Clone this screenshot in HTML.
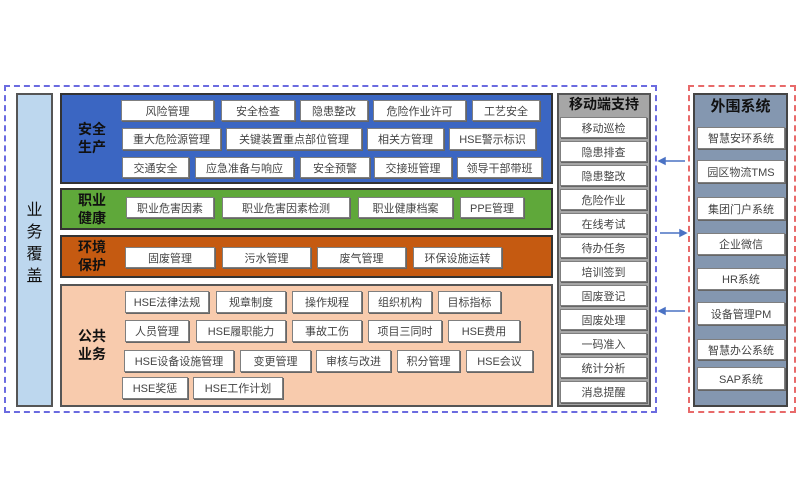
<!DOCTYPE html>
<html><head><meta charset="utf-8"><style>
*{margin:0;padding:0;box-sizing:border-box}
body{width:800px;height:500px;background:#fff;position:relative;overflow:hidden;font-family:"Liberation Sans","Noto Sans CJK SC",sans-serif}
.a{position:absolute}
.b{position:absolute;background:#fff;border:1px solid #7f7f7f;font-size:11px;color:#444;text-align:center;display:flex;align-items:center;justify-content:center;white-space:nowrap;box-shadow:1px 1px 0 #666}
.lbl{position:absolute;font-weight:bold;font-size:14px;line-height:18px;text-align:center;color:#111}
</style></head><body>
<div class="a" style="left:4px;top:85px;width:653px;height:328px;border:2px dashed #6b6be0"></div>
<div class="a" style="left:688px;top:85px;width:108px;height:328px;border:2px dashed #e86a6a"></div>

<div class="a" style="left:16px;top:93px;width:37px;height:314px;background:#bdd7ee;border:2px solid #555"></div>
<div class="lbl" style="left:16px;top:200px;width:37px;font-size:16px;line-height:22px;font-weight:normal">业<br>务<br>覆<br>盖</div>

<div class="a" style="left:60px;top:93px;width:493px;height:91px;background:#3b66c2;border:2px solid #333"></div>
<div class="lbl" style="left:70px;top:120px;width:44px">安全<br>生产</div>
<div class="b" style="left:121px;top:100px;width:93px;height:21px">风险管理</div>
<div class="b" style="left:221px;top:100px;width:74px;height:21px">安全检查</div>
<div class="b" style="left:300px;top:100px;width:68px;height:21px">隐患整改</div>
<div class="b" style="left:373px;top:100px;width:93px;height:21px">危险作业许可</div>
<div class="b" style="left:472px;top:100px;width:68px;height:21px">工艺安全</div>
<div class="b" style="left:122px;top:128px;width:99px;height:22px">重大危险源管理</div>
<div class="b" style="left:226px;top:128px;width:136px;height:22px">关键装置重点部位管理</div>
<div class="b" style="left:367px;top:128px;width:77px;height:22px">相关方管理</div>
<div class="b" style="left:449px;top:128px;width:87px;height:22px">HSE警示标识</div>
<div class="b" style="left:122px;top:157px;width:67px;height:21px">交通安全</div>
<div class="b" style="left:195px;top:157px;width:99px;height:21px">应急准备与响应</div>
<div class="b" style="left:300px;top:157px;width:70px;height:21px">安全预警</div>
<div class="b" style="left:374px;top:157px;width:78px;height:21px">交接班管理</div>
<div class="b" style="left:457px;top:157px;width:85px;height:21px">领导干部带班</div>

<div class="a" style="left:60px;top:188px;width:493px;height:42px;background:#5fa83a;border:2px solid #333"></div>
<div class="lbl" style="left:70px;top:191px;width:44px">职业<br>健康</div>
<div class="b" style="left:126px;top:197px;width:88px;height:21px">职业危害因素</div>
<div class="b" style="left:222px;top:197px;width:128px;height:21px">职业危害因素检测</div>
<div class="b" style="left:358px;top:197px;width:95px;height:21px">职业健康档案</div>
<div class="b" style="left:460px;top:197px;width:64px;height:21px">PPE管理</div>

<div class="a" style="left:60px;top:235px;width:493px;height:43px;background:#c55a11;border:2px solid #333"></div>
<div class="lbl" style="left:70px;top:238px;width:44px">环境<br>保护</div>
<div class="b" style="left:125px;top:247px;width:90px;height:21px">固废管理</div>
<div class="b" style="left:222px;top:247px;width:89px;height:21px">污水管理</div>
<div class="b" style="left:317px;top:247px;width:89px;height:21px">废气管理</div>
<div class="b" style="left:413px;top:247px;width:89px;height:21px">环保设施运转</div>

<div class="a" style="left:60px;top:284px;width:493px;height:123px;background:#f8cbad;border:2px solid #555"></div>
<div class="lbl" style="left:70px;top:327px;width:44px">公共<br>业务</div>
<div class="b" style="left:125px;top:291px;width:84px;height:22px">HSE法律法规</div>
<div class="b" style="left:216px;top:291px;width:70px;height:22px">规章制度</div>
<div class="b" style="left:292px;top:291px;width:70px;height:22px">操作规程</div>
<div class="b" style="left:368px;top:291px;width:64px;height:22px">组织机构</div>
<div class="b" style="left:438px;top:291px;width:63px;height:22px">目标指标</div>
<div class="b" style="left:125px;top:320px;width:64px;height:22px">人员管理</div>
<div class="b" style="left:196px;top:320px;width:90px;height:22px">HSE履职能力</div>
<div class="b" style="left:292px;top:320px;width:70px;height:22px">事故工伤</div>
<div class="b" style="left:368px;top:320px;width:74px;height:22px">项目三同时</div>
<div class="b" style="left:448px;top:320px;width:72px;height:22px">HSE费用</div>
<div class="b" style="left:124px;top:350px;width:110px;height:22px">HSE设备设施管理</div>
<div class="b" style="left:240px;top:350px;width:71px;height:22px">变更管理</div>
<div class="b" style="left:316px;top:350px;width:75px;height:22px">审核与改进</div>
<div class="b" style="left:397px;top:350px;width:63px;height:22px">积分管理</div>
<div class="b" style="left:466px;top:350px;width:67px;height:22px">HSE会议</div>
<div class="b" style="left:122px;top:377px;width:66px;height:22px">HSE奖惩</div>
<div class="b" style="left:193px;top:377px;width:90px;height:22px">HSE工作计划</div>

<div class="a" style="left:557px;top:93px;width:94px;height:314px;background:#a6a6a6;border:2px solid #555"></div>
<div class="lbl" style="left:557px;top:95px;width:94px;height:20px;font-size:14px">移动端支持</div>
<div class="b" style="left:560px;top:117px;width:87px;height:21px">移动巡检</div>
<div class="b" style="left:560px;top:141px;width:87px;height:21px">隐患排查</div>
<div class="b" style="left:560px;top:165px;width:87px;height:21px">隐患整改</div>
<div class="b" style="left:560px;top:189px;width:87px;height:21px">危险作业</div>
<div class="b" style="left:560px;top:213px;width:87px;height:21px">在线考试</div>
<div class="b" style="left:560px;top:237px;width:87px;height:21px">待办任务</div>
<div class="b" style="left:560px;top:261px;width:87px;height:21px">培训签到</div>
<div class="b" style="left:560px;top:285px;width:87px;height:21px">固废登记</div>
<div class="b" style="left:560px;top:309px;width:87px;height:21px">固废处理</div>
<div class="b" style="left:560px;top:333px;width:87px;height:21px">一码准入</div>
<div class="b" style="left:560px;top:357px;width:87px;height:21px">统计分析</div>
<div class="b" style="left:560px;top:381px;width:87px;height:22px">消息提醒</div>

<svg class="a" style="left:655px;top:150px" width="35" height="170">
<g stroke="#4a72c4" stroke-width="1.5" fill="#4a72c4">
<line x1="30" y1="11" x2="8" y2="11"/><polygon points="4,11 10,8 10,14"/>
<line x1="5" y1="83" x2="27" y2="83"/><polygon points="31,83 25,80 25,86"/>
<line x1="30" y1="161" x2="8" y2="161"/><polygon points="4,161 10,158 10,164"/>
</g></svg>

<div class="a" style="left:693px;top:93px;width:95px;height:314px;background:#8497b0;border:2px solid #444"></div>
<div class="lbl" style="left:693px;top:98px;width:95px;font-size:15px">外围系统</div>
<div class="b" style="left:697px;top:127px;width:88px;height:22px">智慧安环系统</div>
<div class="b" style="left:697px;top:160px;width:88px;height:23px">园区物流TMS</div>
<div class="b" style="left:697px;top:197px;width:88px;height:23px">集团门户系统</div>
<div class="b" style="left:697px;top:233px;width:88px;height:22px">企业微信</div>
<div class="b" style="left:697px;top:268px;width:88px;height:22px">HR系统</div>
<div class="b" style="left:697px;top:302px;width:88px;height:23px">设备管理PM</div>
<div class="b" style="left:697px;top:339px;width:88px;height:21px">智慧办公系统</div>
<div class="b" style="left:697px;top:367px;width:88px;height:23px">SAP系统</div>
</body></html>
